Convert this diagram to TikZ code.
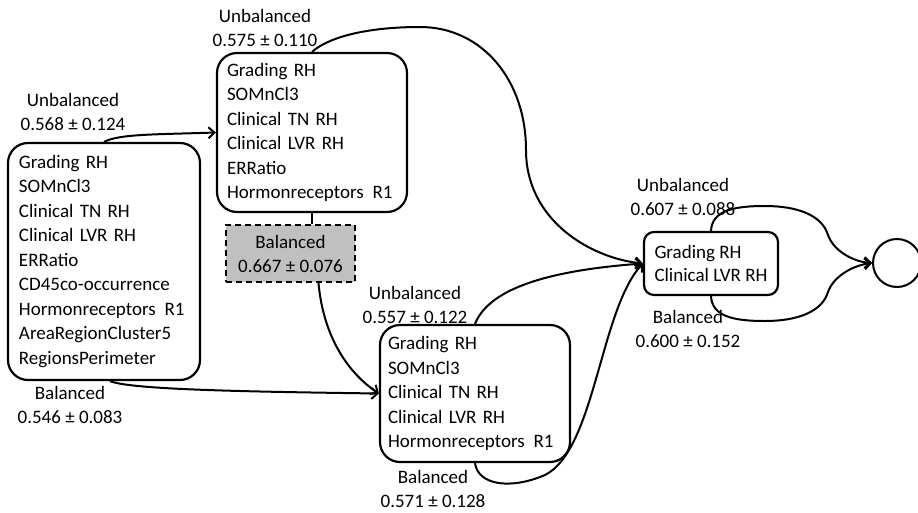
\documentclass[tikz,border=0pt]{standalone}
\usepackage{fontspec}
\setmainfont{Carlito}
\usetikzlibrary{arrows.meta}
\definecolor{boxgrey}{RGB}{192,192,192}
\newcommand{\hrr}{Hormonreceptors\hspace{2.5pt} R1}
\begin{document}
\begin{tikzpicture}[x=1pt,y=-1pt,
  every node/.style={font=\fontsize{19}{24.5}\selectfont},
  fbox/.style={draw,line width=2.2pt,rounded corners=20pt,align=left,inner ysep=0pt},
  lbl/.style={align=center,inner sep=0pt,font=\fontsize{19}{24}\selectfont},
  conn/.style={line width=2pt,-{Straight Barb[length=6pt,width=11pt,line width=2pt]}},
  plain/.style={line width=2pt}]
\useasboundingbox (0,0) rectangle (918,512);
% boxes
\node[fbox,minimum width=192pt,minimum height=237pt,text width=170pt,inner xsep=11pt] (L) at (104,261.5)
 {Grading RH\\SOMnCl3\\Clinical TN RH\\Clinical LVR RH\\ERRatio\\CD45co-occurrence\\\hrr\\AreaRegionCluster5\\RegionsPerimeter};
\node[fbox,minimum width=190pt,minimum height=159pt,text width=170pt,inner xsep=10pt] (T) at (312,132.5)
 {Grading RH\\SOMnCl3\\Clinical TN RH\\Clinical LVR RH\\ERRatio\\\hrr};
\node[draw,dashed,dash pattern=on 6pt off 4pt,line width=2pt,fill=boxgrey,minimum width=129pt,minimum height=57pt,align=center,inner sep=0pt,font=\fontsize{19}{24}\selectfont] (D) at (290.5,253.5)
 {Balanced\\0.667 ± 0.076};
\node[fbox,minimum width=190pt,minimum height=137pt,text width=174pt,inner xsep=8pt] (B) at (475,393.5)
 {Grading RH\\SOMnCl3\\Clinical TN RH\\Clinical LVR RH\\\hrr};
\node[fbox,rounded corners=10pt,minimum width=134pt,minimum height=63pt,inner xsep=0pt,font=\fontsize{19}{23}\selectfont] (R) at (711,263.5)
 {Grading RH\\Clinical LVR RH};
\node[draw,circle,line width=2pt,minimum size=48pt,inner sep=0pt] (C) at (897,263) {};
% labels
\node[lbl] (lLt) at (73,112) {Unbalanced\\0.568 ± 0.124};
\node[lbl] (lLb) at (70,405) {Balanced\\0.546 ± 0.083};
\node[lbl] (lTt) at (265,28) {Unbalanced\\0.575 ± 0.110};
\node[lbl] (lBt) at (415,304.5) {Unbalanced\\0.557 ± 0.122};
\node[lbl] (lBb) at (433,488.5) {Balanced\\0.571 ± 0.128};
\node[lbl] (lRt) at (683,196.5) {Unbalanced\\0.607 ± 0.088};
\node[lbl] (lRb) at (688,328.5) {Balanced\\0.600 ± 0.152};
% connectors
\draw[conn] (L.north) .. controls +(15,-8) and +(-60,2) .. (T.west);
\draw[conn] ([xshift=6pt]L.south) .. controls +(20,8) and +(-150,-2) .. (B.west);
\draw[plain] (T.south) -- (T.south |- D.north);
\draw[conn] ([xshift=28pt]D.south) .. controls +(5,55) and +(-30,-20) .. (B.west);
\draw[conn] (T.north) .. controls (330,36) and (370,27) .. (420,27)
  .. controls (482,27) and (526,80) .. (526,150)
  .. controls (526,220) and (590,258) .. (R.west);
\draw[conn] (B.north) .. controls +(12,-30) and +(-110,8) .. (R.west);
\draw[conn] (B.south) .. controls (478,485) and (510,490) .. (545,475)
  .. controls (595,450) and (600,310) .. (R.west);
\draw[conn] (R.north) .. controls (712,210) and (735,206) .. (765,206)
  .. controls (797,206) and (822,215) .. (828,235)
  .. controls (834,252) and (855,262) .. (C.west);
\draw[conn] (R.south) .. controls (712,317) and (735,321) .. (765,321)
  .. controls (797,321) and (822,312) .. (828,292)
  .. controls (834,275) and (855,265) .. (C.west);
\end{tikzpicture}
\end{document}
